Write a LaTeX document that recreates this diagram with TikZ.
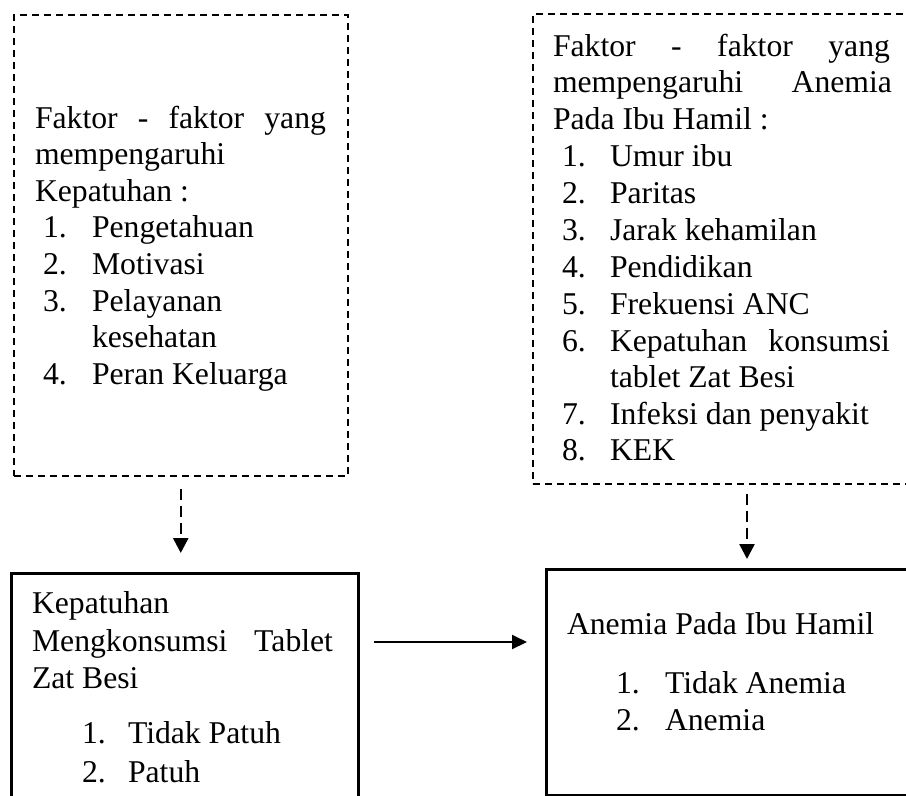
\documentclass[tikz,border=0pt]{standalone}
\usepackage{fontspec}
\setmainfont{Liberation Serif}
\usetikzlibrary{arrows.meta}
\begin{document}
\begin{tikzpicture}[x=1pt,y=-1pt,
  dbox/.style={draw,dash pattern=on 7pt off 5pt,line width=1.5pt,rectangle,inner sep=0pt,anchor=north west},
  sbox/.style={draw,line width=3pt,rectangle,inner sep=0pt,anchor=north west},
  txt/.style={anchor=base west,inner sep=0pt,outer sep=0pt,font=\fontsize{31.7}{37}\selectfont},
  darrow/.style={dash pattern=on 11pt off 6pt,line width=2.5pt,-{Triangle[length=15pt,width=15pt]}},
  sarrow/.style={line width=2pt,-{Triangle[length=15pt,width=14pt]}}]
\useasboundingbox (0,0) rectangle (906,796);
\clip (0,0) rectangle (906,796);
% boxes
\node[dbox,minimum width=334pt,minimum height=461pt] (lf) at (13,14) {};
\node[dbox,minimum width=376pt,minimum height=470pt] (rf) at (532,13) {};
\node[sbox,minimum width=347pt,minimum height=240pt] (ls) at (10,572) {};
\node[sbox,minimum width=365pt,minimum height=226pt] (rs) at (545,568) {};
% left dashed box text
\node[txt] (lf1) at (35,128) {\makebox[291pt][s]{Faktor - faktor yang}};
\node[txt] (lf2) at (35,164) {mempengaruhi};
\node[txt] (lf3) at (35,201) {Kepatuhan :};
\node[txt] (lfn1) at (43,237) {1.};
\node[txt] (lft1) at (92,237) {Pengetahuan};
\node[txt] (lfn2) at (43,274) {2.};
\node[txt] (lft2) at (92,274) {Motivasi};
\node[txt] (lfn3) at (43,311) {3.};
\node[txt] (lft3) at (92,311) {Pelayanan};
\node[txt] (lft3b) at (92,347) {kesehatan};
\node[txt] (lfn4) at (43,384) {4.};
\node[txt] (lft4) at (92,384) {Peran Keluarga};
% right dashed box text
\node[txt] (rf1) at (553,56) {\makebox[337pt][s]{Faktor - faktor yang}};
\node[txt] (rf2) at (553,92) {\makebox[339pt][s]{mempengaruhi Anemia}};
\node[txt] (rf3) at (553,129) {Pada Ibu Hamil :};
\node[txt] (rfn1) at (562,166) {1.};
\node[txt] (rft1) at (610,166) {Umur ibu};
\node[txt] (rfn2) at (562,203) {2.};
\node[txt] (rft2) at (610,203) {Paritas};
\node[txt] (rfn3) at (562,240) {3.};
\node[txt] (rft3) at (610,240) {Jarak kehamilan};
\node[txt] (rfn4) at (562,277) {4.};
\node[txt] (rft4) at (610,277) {Pendidikan};
\node[txt] (rfn5) at (562,314) {5.};
\node[txt] (rft5) at (610,314) {Frekuensi ANC};
\node[txt] (rfn6) at (562,351) {6.};
\node[txt] (rft6) at (610,351) {\makebox[280pt][s]{Kepatuhan konsumsi}};
\node[txt] (rft6b) at (610,387) {tablet Zat Besi};
\node[txt] (rfn7) at (562,424) {7.};
\node[txt] (rft7) at (610,424) {Infeksi dan penyakit};
\node[txt] (rfn8) at (562,460) {8.};
\node[txt] (rft8) at (610,460) {KEK};
% left solid box text
\node[txt] (ls1) at (32,613) {Kepatuhan};
\node[txt] (ls2) at (32,651) {\makebox[301pt][s]{Mengkonsumsi Tablet}};
\node[txt] (ls3) at (32,688) {Zat Besi};
\node[txt] (lsn1) at (82,743) {1.};
\node[txt] (lst1) at (128,743) {Tidak Patuh};
\node[txt] (lsn2) at (82,782) {2.};
\node[txt] (lst2) at (128,782) {Patuh};
% right solid box text
\node[txt] (rs1) at (567,634) {Anemia Pada Ibu Hamil};
\node[txt] (rsn1) at (616,693) {1.};
\node[txt] (rst1) at (665,693) {Tidak Anemia};
\node[txt] (rsn2) at (616,730) {2.};
\node[txt] (rst2) at (665,730) {Anemia};
% connectors
\draw[darrow] ([yshift=-12pt]lf.south) -- ([yshift=19pt]ls.north -| lf.south);
\coordinate (rax) at (747,0);
\path (rf.south -| rax) coordinate (ra1);
\path (rs.north -| rax) coordinate (ra2);
\draw[darrow] ([yshift=-9pt]ra1) -- ([yshift=9pt]ra2);
\coordinate (hy) at (0,642);
\path (ls.east |- hy) coordinate (h1);
\path (rs.west |- hy) coordinate (h2);
\draw[sarrow] ([xshift=14pt]h1) -- ([xshift=-18pt]h2);
\end{tikzpicture}
\end{document}
